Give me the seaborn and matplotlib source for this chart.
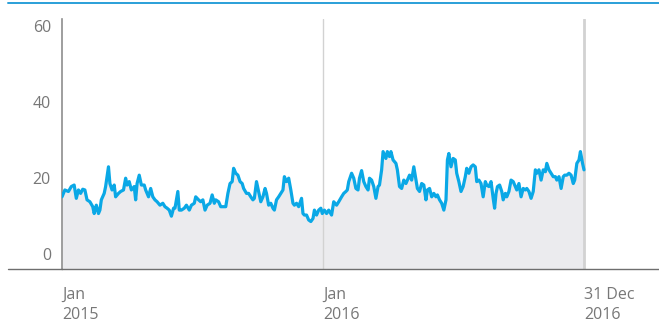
import matplotlib
matplotlib.use("Agg")
import matplotlib.pyplot as plt
import matplotlib.transforms as mtransforms
from matplotlib.lines import Line2D
import pandas as pd
import seaborn as sns

# Daily index level, sampled every few days (days counted from 1 Jan 2015)
start = pd.Timestamp("2015-01-01")

day_offset = [
    0, 4, 9, 13, 17, 20, 23, 26, 29, 32, 35, 39, 43, 45, 48, 51, 53, 55, 59, 61,
    65, 67, 70, 73, 75, 79, 82, 86, 89, 91, 94, 97, 101, 103, 105, 108, 111, 115, 117, 121,
    124, 127, 130, 133, 137, 141, 144, 147, 150, 153, 156, 158, 162, 164, 167, 171, 174, 178, 181, 185,
    187, 191, 194, 197, 200, 203, 207, 210, 213, 215, 219, 222, 226, 229, 232, 235, 238, 240, 243, 246,
    249, 252, 254, 258, 261, 264, 267, 269, 272, 275, 278, 281, 284, 286, 289, 292, 295, 297, 300, 303,
    306, 309, 311, 314, 317, 320, 323, 325, 328, 331, 335, 337, 339, 342, 345, 348, 351, 353, 356, 359,
    362, 364, 367, 370,
    373, 377, 380, 384, 387, 391, 394, 397, 399, 401, 405, 408, 411, 414, 416, 419, 422, 425, 428, 430,
    433, 436, 439, 442, 444, 447, 449, 453, 455, 458, 460, 463, 467, 469, 472, 475, 478, 481, 483, 486,
    489, 492, 495, 497, 500, 503, 506, 509, 511, 514, 517, 520, 523, 525, 528, 531, 534, 537, 539, 541,
    544, 547, 550, 552, 555, 558, 561, 564, 566, 569, 572, 575, 578, 580, 583, 586, 589, 592, 594, 597,
    600, 603, 605, 607, 609, 612, 615, 617, 620, 622, 625, 628, 631, 634, 636, 639, 642, 645, 648, 650,
    653, 656, 659, 662, 664, 667, 670, 673, 676, 678, 681, 684, 687, 690, 692, 695, 698, 701, 703, 706,
    709, 712, 715, 717, 720, 723, 725, 728, 730,
]

level = [
    19.0, 20.8, 20.4, 21.7, 22.1, 18.6, 20.8, 19.9, 21.0, 20.8, 18.2, 17.7, 16.4, 14.6, 16.8, 14.6, 15.5, 18.2, 19.9, 21.7,
    26.9, 22.5, 20.8, 22.1, 19.0, 19.9, 20.4, 20.8, 23.9, 22.1, 23.0, 20.8, 21.7, 18.2, 22.5, 24.7, 22.1, 22.1, 20.8, 19.0,
    21.2, 19.0, 18.2, 17.7, 16.8, 17.3, 16.4, 16.0, 15.5, 13.9, 16.0, 16.0, 20.4, 15.5, 15.5, 16.0, 16.8, 15.5, 16.8, 17.3,
    19.0, 18.2, 17.7, 18.2, 15.5, 16.8, 17.3, 19.5, 17.3, 18.2, 17.7, 16.4, 16.4, 16.4, 19.9, 22.5, 23.0, 26.5, 25.2, 24.7,
    23.0, 22.5, 21.2, 19.9, 19.9, 19.0, 18.2, 18.6, 23.0, 20.4, 17.7, 19.0, 21.2, 19.9, 16.8, 17.3, 16.0, 15.5, 18.2, 19.0,
    19.9, 20.8, 24.3, 23.0, 23.9, 20.8, 17.3, 16.8, 17.3, 16.4, 18.6, 14.6, 14.2, 14.2, 12.9, 12.5, 13.3, 15.5, 14.2, 15.5,
    16.0, 14.6, 15.5, 14.6,
    15.5, 14.2, 17.7, 16.8, 17.7, 19.0, 19.9, 20.4, 20.8, 23.0, 25.2, 23.9, 21.2, 20.8, 23.9, 25.9, 23.0, 21.7, 20.8, 23.9,
    23.4, 21.7, 18.6, 21.7, 22.1, 26.1, 30.9, 29.1, 30.9, 29.6, 30.9, 28.7, 27.8, 26.1, 21.7, 21.2, 23.4, 22.5, 23.4, 24.7,
    23.4, 26.9, 23.4, 21.2, 20.4, 22.5, 22.1, 18.2, 20.8, 21.2, 19.0, 19.9, 19.0, 19.5, 18.2, 17.3, 15.5, 18.2, 28.7, 30.4,
    26.9, 29.1, 28.7, 25.2, 23.0, 20.4, 21.7, 24.3, 26.5, 25.2, 26.9, 27.4, 26.9, 23.0, 23.4, 22.5, 19.0, 23.0, 22.1, 21.7,
    23.0, 18.6, 16.0, 19.9, 21.7, 22.1, 20.4, 18.2, 19.9, 19.0, 20.4, 23.4, 23.0, 21.7, 20.8, 22.5, 19.0, 21.2, 20.8, 21.2,
    20.4, 18.6, 20.4, 26.1, 25.2, 26.1, 23.4, 26.1, 25.6, 27.8, 26.1, 25.2, 24.3, 24.3, 23.4, 24.3, 21.2, 24.3, 24.7, 24.7,
    25.2, 24.7, 22.5, 23.4, 27.8, 28.7, 30.9, 27.8, 26.1,
]

y_ticks = [0, 20, 40, 60]
x_ticks = ["2015-01-01", "2016-01-01", "2016-12-31"]
x_tick_labels = ["Jan\n2015", "Jan\n2016", "31 Dec\n2016"]

df = pd.DataFrame({
    "date": start + pd.to_timedelta(day_offset, unit="D"),
    "level": level,
})

sns.set_theme(style="white")
plt.rcParams["font.family"] = ["Open Sans", "DejaVu Sans"]

W, H = 659, 323
fig = plt.figure(figsize=(W / 100, H / 100), dpi=100)
ax = fig.add_axes([62 / W, (H - 269) / H, (W - 62) / W, 250 / H])

ax.fill_between(df["date"], df["level"], 0, color="#ebebee", lw=0, zorder=1)
sns.lineplot(data=df, x="date", y="level", color="#0aa8e6", lw=2.3, ax=ax, zorder=3)

# marker lines at the start of 2016 and at the last date
ax.axvline(pd.Timestamp("2016-01-01"), color="#d2d2d2", lw=1.0, zorder=2)
ax.axvline(pd.Timestamp("2016-12-31"), color="#d2d2d2", lw=2.0, zorder=2)

ax.set_xlim(start, start + pd.Timedelta(days=834.9))
ax.set_ylim(0, 65.8)
ax.set_xlabel("")
ax.set_ylabel("")

for side in ("top", "right"):
    ax.spines[side].set_visible(False)
ax.spines["left"].set_color("#8e8e8e")
ax.spines["left"].set_linewidth(1.2)
ax.spines["bottom"].set_color("#6e6e6e")
ax.spines["bottom"].set_linewidth(1.0)

text_color = "#777777"
ax.set_yticks(y_ticks)
ax.set_yticklabels([str(v) for v in y_ticks])
ax.tick_params(axis="y", length=0, pad=8, labelsize=11.5, labelcolor=text_color)
lift = mtransforms.ScaledTranslation(0, 15 / 100, fig.dpi_scale_trans)
for lab in ax.get_yticklabels():
    lab.set_transform(lab.get_transform() + lift)

ax.set_xticks(pd.to_datetime(x_ticks))
ax.set_xticklabels(x_tick_labels, ha="left", linespacing=1.3)
ax.tick_params(axis="x", length=0, pad=13, labelsize=11.5, labelcolor=text_color)

# baseline extends left under the value labels; thin rule across the top
y_base = (H - 269) / H
fig.add_artist(Line2D([8 / W, 62 / W], [y_base, y_base], color="#6e6e6e", lw=1.0))
fig.add_artist(Line2D([8 / W, 1.0], [(H - 3) / H, (H - 3) / H], color="#2a9fd8", lw=1.4))

fig.savefig("out.png", dpi=100)
